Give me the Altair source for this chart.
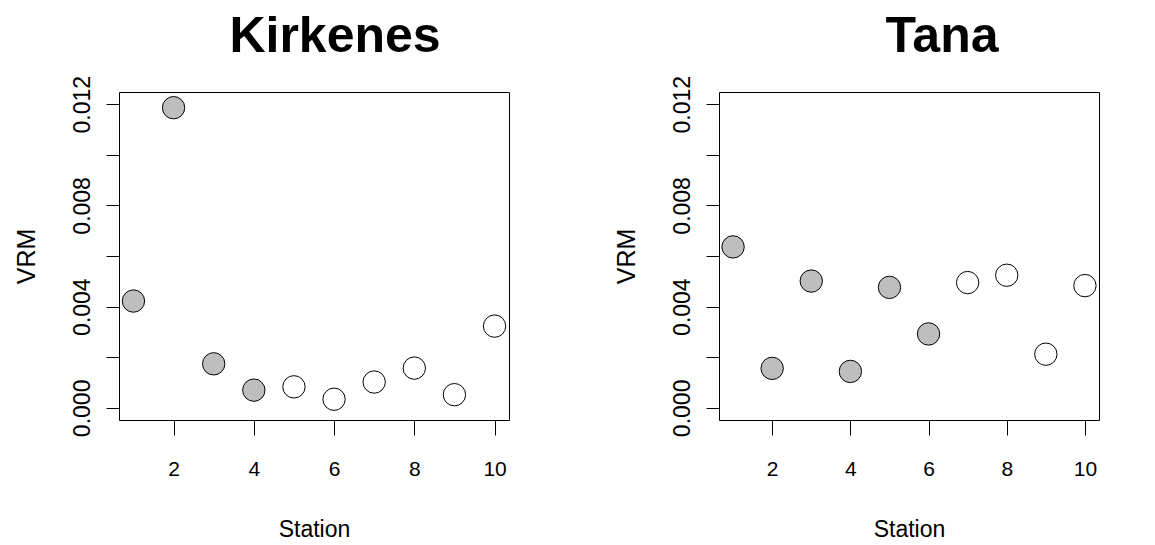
import altair as alt
import pandas as pd

stations = [1, 2, 3, 4, 5, 6, 7, 8, 9, 10]
kirkenes_vrm = [0.00422, 0.01186, 0.00174, 0.00070, 0.00083, 0.00034, 0.00102, 0.00157, 0.00052, 0.00323]
kirkenes_filled = ["yes", "yes", "yes", "yes", "no", "no", "no", "no", "no", "no"]
tana_vrm = [0.00636, 0.00156, 0.00501, 0.00144, 0.00476, 0.00292, 0.00495, 0.00524, 0.00212, 0.00483]
tana_filled = ["yes", "yes", "yes", "yes", "yes", "yes", "no", "no", "no", "no"]
x_ticks = [2, 4, 6, 8, 10]
y_ticks = [0.0, 0.002, 0.004, 0.006, 0.008, 0.010, 0.012]

FONT = "Liberation Sans"


def panel(title, vrm, filled, width, title_dx):
    df = pd.DataFrame({"Station": stations, "VRM": vrm, "filled": filled})
    return (
        alt.Chart(df)
        .mark_point(shape="circle", filled=True, size=500, stroke="black", strokeWidth=1, opacity=1)
        .encode(
            x=alt.X(
                "Station:Q",
                scale=alt.Scale(domain=[0.64, 10.36], nice=False, zero=False),
                axis=alt.Axis(
                    values=x_ticks, title="Station", grid=False, domain=False,
                    tickSize=15, tickColor="black", tickWidth=1,
                    labelFont=FONT, labelFontSize=21, labelColor="black",
                    labelBaseline="alphabetic", labelPadding=40,
                    titleFont=FONT, titleFontSize=23, titleFontWeight="normal", titleColor="black",
                    titleBaseline="alphabetic", titleY=116, titleX=width / 2,
                    labelFlush=False,
                ),
            ),
            y=alt.Y(
                "VRM:Q",
                scale=alt.Scale(domain=[-0.00048, 0.01248], nice=False, zero=False),
                axis=alt.Axis(
                    values=y_ticks, title="VRM", grid=False, domain=False,
                    tickSize=13, tickColor="black", tickWidth=1,
                    labelExpr="round(datum.value*1000) % 4 == 0 ? format(datum.value, '.3f') : ''",
                    labelAngle=-90, labelAlign="center", labelBaseline="alphabetic",
                    labelPadding=17, labelFlush=False,
                    labelFont=FONT, labelFontSize=23, labelColor="black",
                    titleFont=FONT, titleFontSize=25, titleFontWeight="normal", titleColor="black",
                    titleAngle=-90, titleBaseline="middle", titleX=-93, titleY=164,
                ),
            ),
            fill=alt.Fill("filled:N", scale=alt.Scale(domain=["yes", "no"], range=["#bebebe", "#ffffff"]), legend=None),
        )
        .properties(
            width=width,
            height=328,
            title=alt.TitleParams(
                text=title, font=FONT, fontSize=50, fontWeight="bold", color="black",
                anchor="middle", frame="group", dx=title_dx, baseline="alphabetic", offset=-27,
            ),
        )
    )


left = panel("Kirkenes", kirkenes_vrm, kirkenes_filled, 390, 21)
right = panel("Tana", tana_vrm, tana_filled, 380, 33)

chart = (
    alt.hconcat(left, right, spacing=103)
    .configure_view(stroke="black", strokeWidth=1)
    .properties(padding={"left": 5, "top": 3, "right": 5, "bottom": 5}, background="white")
)

chart.save("out.html", embed_options={"renderer": "svg", "actions": False})
